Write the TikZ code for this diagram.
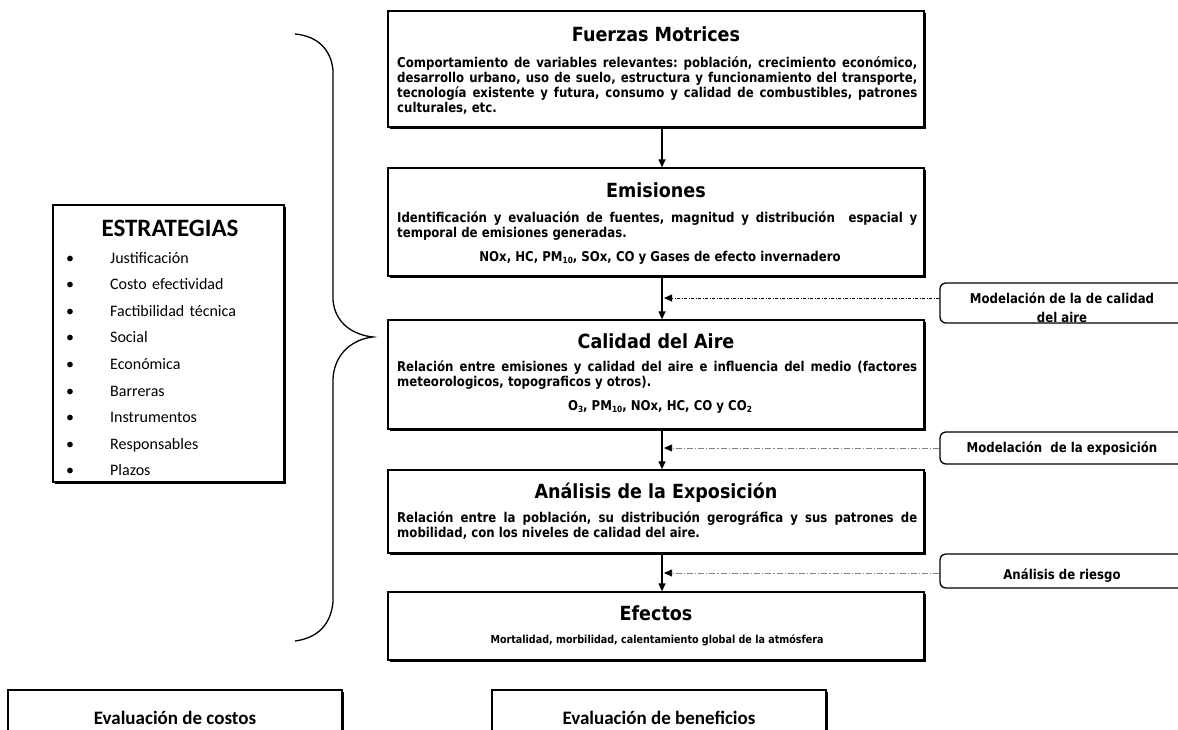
\documentclass[tikz,border=0pt]{standalone}
\usepackage{fontspec}
\setmainfont{DejaVu Sans}[FakeStretch=0.9]
\newfontfamily\bodyfont{DejaVu Sans}[FakeStretch=0.87]
\newfontfamily\calfont{Carlito}
\usetikzlibrary{arrows.meta,shadows,fit}
\frenchspacing
\newcommand\sbs[1]{\raisebox{-2.5pt}{\fontsize{8.5}{8.5}\selectfont #1}}
\tikzset{
  mainbox/.style={draw, line width=1.3pt, fill=white, inner sep=0pt,
    drop shadow={shadow xshift=1.8pt, shadow yshift=-1.8pt, fill=black, opacity=1}},
  sidebox/.style={draw, line width=1.3pt, inner sep=0pt, rounded corners=6pt},
  ttl/.style={font=\fontsize{19.5}{22}\selectfont\bfseries, inner sep=0pt, anchor=base},
  bodytxt/.style={font=\bodyfont\fontsize{13.5}{15}\selectfont\bfseries, inner sep=0pt, text width=520pt, align=justify, anchor=base west},
  ctrtxt/.style={font=\bodyfont\fontsize{13.5}{15}\selectfont\bfseries, inner sep=0pt, anchor=base},
  sidetxt/.style={font=\bodyfont\fontsize{13.5}{19}\selectfont\bfseries, inner sep=0pt, anchor=base, align=center},
  arr/.style={line width=1.3pt, -{Triangle[length=8pt,width=7pt]}},
  dasharrA/.style={line width=1pt, dash pattern=on 3pt off 1.5pt on 1pt off 1.5pt, -{Triangle[length=8pt,width=7pt]}},
  dasharrB/.style={line width=0.6pt, gray, dash pattern=on 6pt off 2pt on 1.2pt off 2pt, -{Triangle[length=8pt,width=7pt,color=black,fill=black]}},
  bracepath/.style={line width=1.3pt},
}
\begin{document}
\begin{tikzpicture}[x=1pt,y=-1pt]
\useasboundingbox (0,0) rectangle (1178,729);
\clip (0,0) rectangle (1178,729);
\fill[white] (0,0) rectangle (1178,729);
\coordinate (ax) at (662,0);

% main chain boxes
\node[mainbox, fit={(388,11) (924,127)}] (fm) {};
\node[ttl] (fmT) at (656,41) {Fuerzas Motrices};
\node[bodytxt] (fmB) at (397,67.5) {Comportamiento de variables relevantes: población, crecimiento económico,\linebreak desarrollo urbano, uso de suelo, estructura y funcionamiento del transporte,\linebreak tecnología existente y futura, consumo y calidad de combustibles, patrones\linebreak culturales, etc.};

\node[mainbox, fit={(388,168) (924,276)}] (em) {};
\node[ttl] (emT) at (656,197) {Emisiones};
\node[bodytxt] (emB) at (397,222.5) {Identificación y evaluación de fuentes, magnitud y distribución \ espacial y\linebreak temporal de emisiones generadas.};
\node[ctrtxt] (emC) at (660,261) {NOx, HC, PM\sbs{10}, SOx, CO y Gases de efecto invernadero};

\node[mainbox, fit={(388,320) (924,429)}] (ca) {};
\node[ttl] (caT) at (656,348) {Calidad del Aire};
\node[bodytxt] (caB) at (397,371.5) {Relación entre emisiones y calidad del aire e influencia del medio (factores\linebreak meteorologicos, topograficos y otros).};
\node[ctrtxt] (caC) at (660,410) {O\sbs{3}, PM\sbs{10}, NOx, HC, CO y CO\sbs{2}};

\node[mainbox, fit={(388,470) (924,553)}] (an) {};
\node[ttl] (anT) at (656,498) {Análisis de la Exposición};
\node[bodytxt] (anB) at (397,522) {Relación entre la población, su distribución gerográfica y sus patrones de\linebreak mobilidad, con los niveles de calidad del aire.};

\node[mainbox, fit={(388,592) (924,660)}] (ef) {};
\node[ttl] (efT) at (656,620) {Efectos};
\node[ctrtxt, font=\bodyfont\fontsize{11}{12}\selectfont\bfseries] (efC) at (657,643) {Mortalidad, morbilidad, calentamiento global de la atmósfera};

% vertical arrows
\draw[arr] (fm.south -| ax) -- (em.north -| ax);
\draw[arr] (em.south -| ax) -- (ca.north -| ax);
\draw[arr] (ca.south -| ax) -- (an.north -| ax);
\draw[arr] (an.south -| ax) -- (ef.north -| ax);

% side boxes
\node[sidebox, fit={(940,283) (1200,323)}] (r1) {};
\node[sidetxt] (r1T) at (1062,322) {Modelación de la de calidad\\del aire};
\node[sidebox, fit={(940,432) (1200,464)}] (r2) {};
\node[sidetxt] (r2T) at (1062,452) {Modelación \ de la exposición};
\node[sidebox, fit={(940,554) (1200,588)}] (r3) {};
\node[sidetxt] (r3T) at (1062,579) {Análisis de riesgo};

\coordinate (t1) at (664,298);
\coordinate (t2) at (664,448);
\coordinate (t3) at (664,573);
\draw[dasharrA] (r1.west |- t1) -- (t1);
\draw[dasharrB] (r2.west |- t2) -- (t2);
\draw[dasharrB] (r3.west |- t3) -- (t3);

% estrategias
\node[mainbox, line width=1.1pt, fit={(53,205) (284,482)}] (es) {};
\node[font=\calfont\fontsize{25}{28}\selectfont\bfseries, inner sep=0pt, anchor=base] (esT) at (170,236) {ESTRATEGIAS};
\node[font=\calfont\fontsize{16}{26.6}\selectfont, inner sep=0pt, anchor=base west, text width=210pt, align=left] (esL) at (66,263) {%
\makebox[44pt][l]{\textbullet}Justificación\\
\makebox[44pt][l]{\textbullet}Costo efectividad\\
\makebox[44pt][l]{\textbullet}Factibilidad técnica\\
\makebox[44pt][l]{\textbullet}Social\\
\makebox[44pt][l]{\textbullet}Económica\\
\makebox[44pt][l]{\textbullet}Barreras\\
\makebox[44pt][l]{\textbullet}Instrumentos\\
\makebox[44pt][l]{\textbullet}Responsables\\
\makebox[44pt][l]{\textbullet}Plazos};

% brace
\draw[bracepath] (295,34) .. controls (318,36) and (331,50) .. (333,70) -- (333,300)
  .. controls (335,324) and (354,335) .. (373,337)
  .. controls (354,339) and (335,352) .. (333,378) -- (333,602)
  .. controls (331,624) and (318,638) .. (295,641);

% bottom boxes
\node[mainbox, fit={(8,690) (342,760)}] (co) {};
\node[font=\calfont\fontsize{19}{22}\selectfont\bfseries, inner sep=0pt, anchor=base] (coT) at (175,724) {Evaluación de costos};
\node[mainbox, fit={(492,690) (826,760)}] (be) {};
\node[font=\calfont\fontsize{19}{22}\selectfont\bfseries, inner sep=0pt, anchor=base] (beT) at (659,724) {Evaluación de beneficios};
\end{tikzpicture}
\end{document}
